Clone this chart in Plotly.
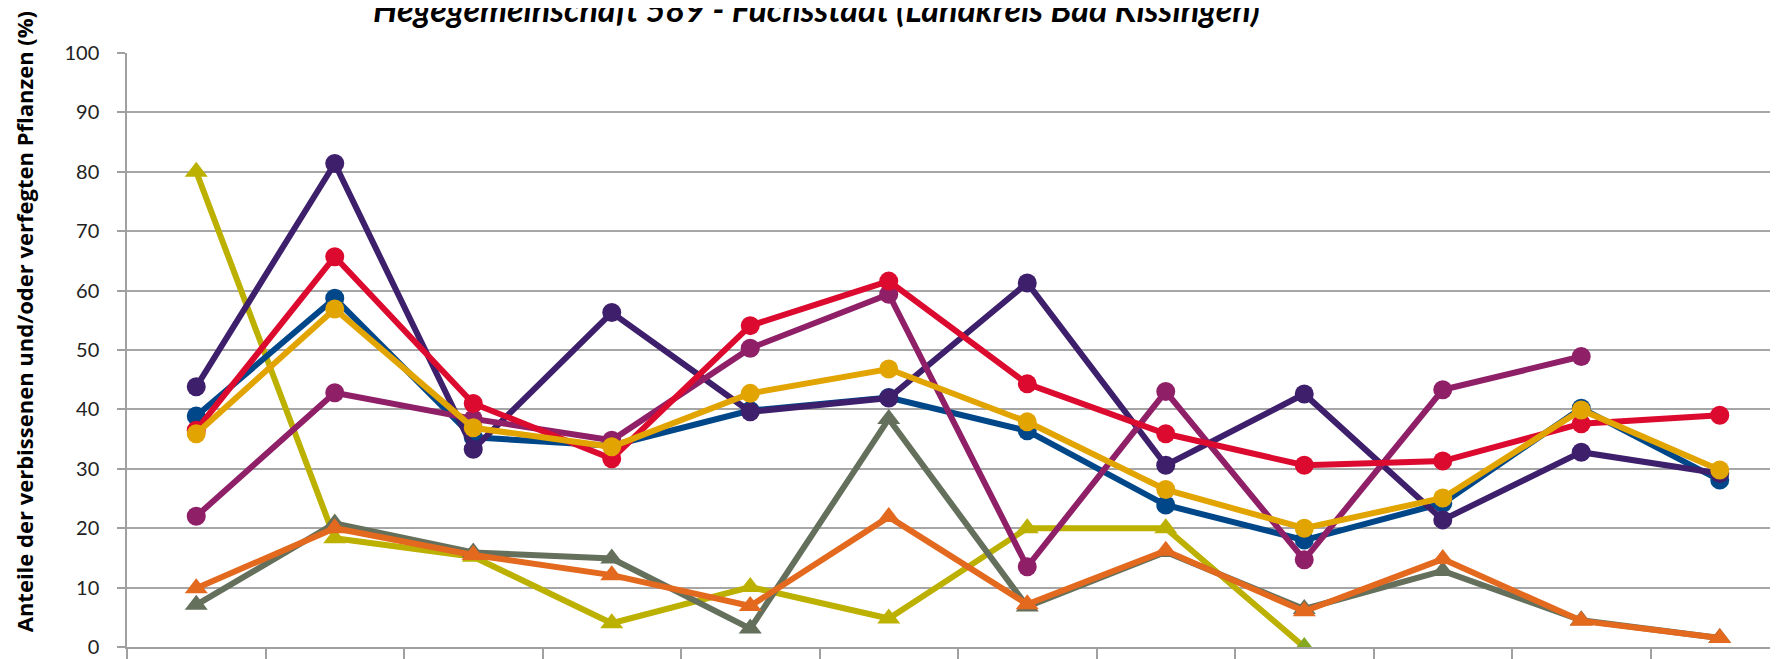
import plotly.graph_objects as go

years = ["1991", "1994", "1997", "2000", "2003", "2006", "2009", "2012", "2015", "2018", "2021", "2024"]

# circle series
s_blue    = [38.9, 58.7, 35.3, 33.9, 39.8, 42.0, 36.4, 23.9, 18.0, 24.2, 40.2, 28.1]
s_purple  = [43.8, 81.4, 33.3, 56.3, 39.6, 41.9, 61.3, 30.6, 42.6, 21.4, 32.8, 29.2]
s_magenta = [22.0, 42.8, 38.4, 34.8, 50.3, 59.4, 13.5, 43.0, 14.7, 43.3, 48.9, None]
s_red     = [36.5, 65.7, 41.0, 31.7, 54.1, 61.6, 44.3, 35.9, 30.6, 31.3, 37.6, 39.0]
s_gold    = [35.9, 56.9, 36.9, 33.7, 42.7, 46.8, 37.9, 26.5, 20.0, 25.1, 39.9, 29.8]
# triangle series
s_yellow  = [80.0, 18.3, 15.2, 4.0, 10.1, 4.8, 20.0, 20.0, 0.0, None, None, None]
s_grey    = [7.1, 20.8, 15.9, 14.9, 3.1, 38.4, 6.8, 16.0, 6.4, 12.8, 4.5, 1.5]
s_orange  = [9.9, 20.0, 15.5, 12.1, 6.9, 21.9, 7.2, 16.2, 6.0, 14.8, 4.4, 1.5]

title_text = "Hegegemeinschaft 589 - Fuchsstadt (Landkreis Bad Kissingen)"
y_title = "Anteile der verbissenen und/oder verfegten Pflanzen (%)"

fig = go.Figure()

def add(vals, color, symbol, name, msize, mcolors=None):
    fig.add_trace(go.Scatter(
        x=years, y=vals, mode="lines+markers", name=name,
        line=dict(color=color, width=6),
        marker=dict(symbol=symbol, size=msize, color=mcolors if mcolors else color),
        connectgaps=False, showlegend=False,
    ))

yellow_marker_colors = ["#BCB000"] * 8 + ["#84A820"] + ["#BCB000"] * 3
add(s_yellow, "#BCB000", "triangle-up", "yellow", 20, yellow_marker_colors)
add(s_grey, "#65705C", "triangle-up", "grey", 20)
add(s_orange, "#E3691F", "triangle-up", "orange", 20)
add(s_blue, "#00478A", "circle", "blue", 19)
add(s_purple, "#3D1F6C", "circle", "purple", 19)
add(s_magenta, "#8F2068", "circle", "magenta", 19)
add(s_red, "#DC0A2F", "circle", "red", 19)
add(s_gold, "#E2A400", "circle", "gold", 19)

# page body has an 8px margin; compensate so the plot lands where the reference has it
OFF = 8
W, H = 1778 - OFF, 659 - OFF
L, T, B = 127 - OFF, 53 - OFF, 6
plot_w = W - L
plot_h = H - T - B
cat_w = 138.5
x_max = -0.5 + plot_w / cat_w

fig.update_layout(
    width=W, height=H,
    margin=dict(l=L, r=0, t=T, b=B, pad=0),
    paper_bgcolor="white", plot_bgcolor="white",
    font=dict(family="Lato", color="#222"),
)
fig.update_xaxes(
    type="category", range=[-0.5, x_max],
    showgrid=False, showline=True, linecolor="#A0A0A0", linewidth=1.5,
    ticks="outside", tickson="boundaries", ticklen=12, tickcolor="#A0A0A0", tickwidth=1.5,
    showticklabels=False, zeroline=False,
)
fig.update_yaxes(
    range=[0, 100], dtick=10, tick0=0,
    showgrid=True, gridcolor="#A6A6A6", gridwidth=1.5,
    showline=True, linecolor="#A0A0A0", linewidth=1.5,
    ticks="outside", ticklen=8, tickcolor="#A0A0A0", tickwidth=1.5,
    tickfont=dict(family="Lato", size=20, color="#222"),
    ticklabelstandoff=14, zeroline=False,
)

fig.add_annotation(
    text="<b><i>" + title_text + "</i></b>",
    xref="paper", yref="paper", x=(816 - 127) / plot_w, y=1,
    xanchor="center", yanchor="bottom", yshift=22, showarrow=False,
    font=dict(family="Lato", size=34, color="#000"),
)
fig.add_annotation(
    text="<b>" + y_title + "</b>",
    xref="paper", yref="paper", x=(24 - 127) / plot_w, y=(653 - 325) / plot_h,
    xanchor="center", yanchor="middle", textangle=-90, showarrow=False,
    font=dict(family="Open Sans", size=22, color="#000"),
)

fig.write_html("out.html")
